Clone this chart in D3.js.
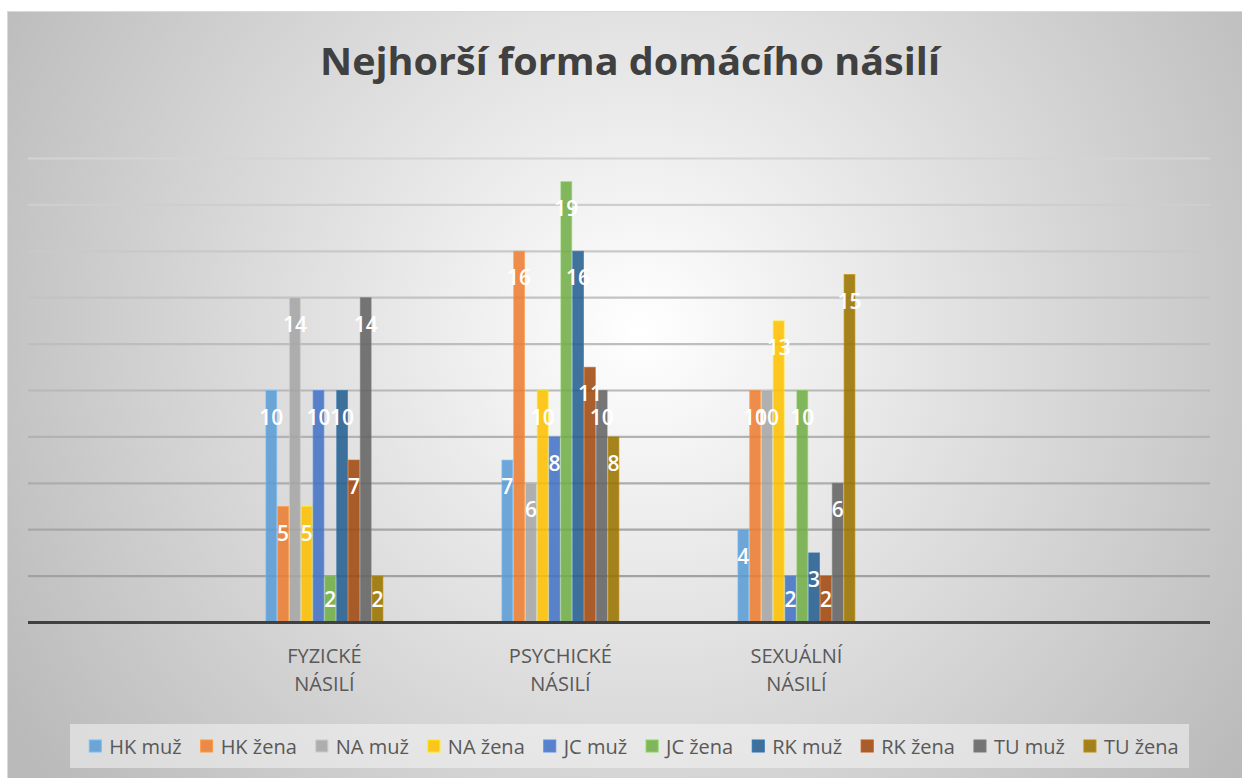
<!DOCTYPE html>
<html>
<head>
<meta charset="utf-8">
<script src="https://cdn.jsdelivr.net/npm/d3@7"></script>
<style>
  body { margin:0; background:#fff; }
  svg { display:block; font-family:'Open Sans', 'Noto Sans', sans-serif; }
</style>
</head>
<body>
<div id="chart"></div>
<script>
// data
var categories = ["FYZICKÉ NÁSILÍ", "PSYCHICKÉ NÁSILÍ", "SEXUÁLNÍ NÁSILÍ"];
var seriesNames = ["HK muž", "HK žena", "NA muž", "NA žena", "JC muž", "JC žena", "RK muž", "RK žena", "TU muž", "TU žena"];
var hkMuz  = [10, 7, 4];
var hkZena = [5, 16, 10];
var naMuz  = [14, 6, 10];
var naZena = [5, 10, 13];
var jcMuz  = [10, 8, 2];
var jcZena = [2, 19, 10];
var rkMuz  = [10, 16, 3];
var rkZena = [7, 11, 2];
var tuMuz  = [14, 10, 6];
var tuZena = [2, 8, 15];
var seriesValues = [hkMuz, hkZena, naMuz, naZena, jcMuz, jcZena, rkMuz, rkZena, tuMuz, tuZena];
var colors = ["#5B9BD5", "#ED7D31", "#A5A5A5", "#FFC000", "#4472C4", "#70AD47", "#255E91", "#9E480E", "#636363", "#997300"];

var width = 1242, height = 778;
var svg = d3.select("#chart").append("svg")
	.attr("width", width)
	.attr("height", height);

var defs = svg.append("defs");
var bg = defs.append("radialGradient")
	.attr("id", "bgGrad")
	.attr("gradientUnits", "userSpaceOnUse")
	.attr("cx", 640).attr("cy", 330).attr("r", 740);
bg.append("stop").attr("offset", "0%").attr("stop-color", "#ffffff");
bg.append("stop").attr("offset", "100%").attr("stop-color", "#bababa");

var gridGrad = defs.append("linearGradient")
	.attr("id", "gridGrad")
	.attr("gradientUnits", "userSpaceOnUse")
	.attr("x1", 0).attr("y1", 158).attr("x2", 0).attr("y2", 622);
gridGrad.append("stop").attr("offset", "0%").attr("stop-color", "#d4d4d4");
gridGrad.append("stop").attr("offset", "100%").attr("stop-color", "#9c9c9c");

// chart area
svg.append("rect")
	.attr("x", 7.5).attr("y", 11.5)
	.attr("width", width - 7).attr("height", height - 11)
	.style("fill", "url(#bgGrad)")
	.style("stroke", "#d9d9d9");

// title
svg.append("text")
	.attr("x", 630)
	.attr("y", 75)
	.attr("text-anchor", "middle")
	.style("font-size", "38px")
	.style("font-weight", "bold")
	.style("fill", "#404040")
	.attr("textLength", 620)
	.attr("lengthAdjust", "spacingAndGlyphs")
	.text("Nejhorší forma domácího násilí");

var plotLeft = 28, plotRight = 1210;
var x0 = d3.scaleBand()
	.domain(categories)
	.range([206.4, 914.4]);
var x1 = d3.scaleBand()
	.domain(seriesNames)
	.range([0, x0.bandwidth() / 2]);
var y = d3.scaleLinear()
	.domain([0, 20])
	.range([622.5, 158.5]);

// gridlines
svg.append("g")
	.selectAll("line")
	.data(y.ticks(10).filter(function(d){ return d > 0; }))
	.enter().append("line")
	.attr("x1", plotLeft)
	.attr("x2", plotRight)
	.attr("y1", function(d){ return y(d); })
	.attr("y2", function(d){ return y(d); })
	.style("stroke", "url(#gridGrad)")
	.style("stroke-width", 2.2);

// bars
var groups = svg.append("g")
	.selectAll("g")
	.data(categories)
	.enter().append("g")
	.attr("transform", function(d){ return "translate(" + (x0(d) + x0.bandwidth() / 4) + ",0)"; });

groups.selectAll("rect")
	.data(function(c, ci){
		return seriesNames.map(function(s, si){ return {s: s, i: si, v: seriesValues[si][ci]}; });
	})
	.enter().append("rect")
	.attr("x", function(d){ return x1(d.s) + 0.5; })
	.attr("width", x1.bandwidth() - 1)
	.attr("y", function(d){ return y(d.v); })
	.attr("height", function(d){ return y(0) - y(d.v); })
	.style("fill", function(d){ return colors[d.i]; })
	.style("fill-opacity", 0.87)
	.style("stroke", function(d){ return d3.color(colors[d.i]).brighter(0.6); })
	.style("stroke-opacity", 0.6)
	.style("stroke-width", 1);

groups.selectAll("text")
	.data(function(c, ci){
		return seriesNames.map(function(s, si){ return {s: s, i: si, v: seriesValues[si][ci]}; });
	})
	.enter().append("text")
	.attr("x", function(d){ return x1(d.s) + x1.bandwidth() / 2; })
	.attr("y", function(d){ return Math.min(y(d.v) + 34, y(0) - 16); })
	.attr("text-anchor", "middle")
	.style("fill", "#ffffff")
	.style("font-size", "21px")
	.style("font-weight", "600")
	.text(function(d){ return d.v; });

// baseline
svg.append("line")
	.attr("x1", plotLeft)
	.attr("x2", plotRight)
	.attr("y1", y(0))
	.attr("y2", y(0))
	.style("stroke", "#404040")
	.style("stroke-width", 3);

// category labels
var xAxis = svg.append("g")
	.attr("transform", "translate(0," + y(0) + ")")
	.call(d3.axisBottom(x0).tickSize(0).tickFormat(""));
xAxis.select(".domain").remove();
xAxis.selectAll(".tick").each(function(d){
	var t = d3.select(this).append("text")
		.attr("text-anchor", "middle")
		.style("font-size", "20px")
		.style("fill", "#595959")
		.style("font-family", "'Open Sans', sans-serif");
	d.split(" ").forEach(function(w, i){
		t.append("tspan").attr("x", 0).attr("y", 40 + i * 28).text(w);
	});
});

// legend
var legend = svg.append("g");
legend.append("rect")
	.attr("x", 70).attr("y", 724)
	.attr("width", 1119).attr("height", 44)
	.style("fill", "#f4f4f4")
	.style("fill-opacity", 0.55);

var items = legend.selectAll("g.item")
	.data(seriesNames)
	.enter().append("g")
	.attr("class", "item");
items.append("rect")
	.attr("width", 12).attr("height", 12)
	.attr("y", 740)
	.style("fill", function(d, i){ return colors[i]; })
	.style("fill-opacity", 0.87)
	.style("stroke", function(d, i){ return d3.color(colors[i]).brighter(0.6); })
	.style("stroke-width", 1);
items.append("text")
	.attr("y", 754)
	.style("font-size", "20px")
	.style("fill", "#595959")
	.text(function(d){ return d; });

var widths = [];
items.select("text").each(function(){ widths.push(this.getComputedTextLength()); });
var total = d3.sum(widths) + widths.length * 20 + (widths.length - 1) * 19;
var cx = 634 - total / 2;
items.each(function(d, i){
	d3.select(this).select("rect").attr("x", cx);
	d3.select(this).select("text").attr("x", cx + 20);
	cx += 20 + widths[i] + 19;
});
</script>
</body>
</html>
